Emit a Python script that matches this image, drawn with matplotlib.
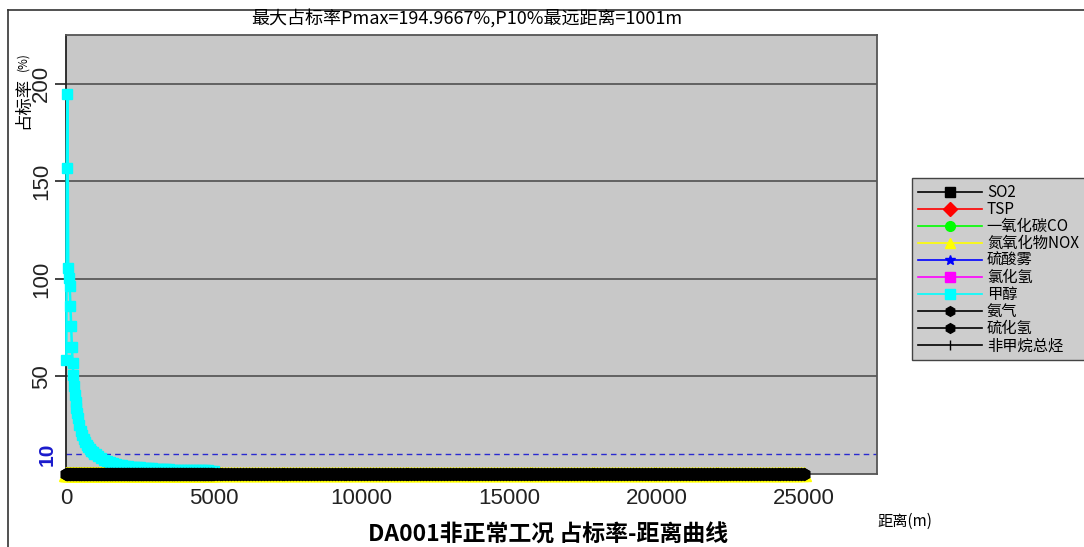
import matplotlib
matplotlib.use('Agg')
import matplotlib.pyplot as plt
from matplotlib.lines import Line2D

plt.rcParams['font.family'] = ['Liberation Sans', 'Noto Sans CJK SC']
CJK = ['Noto Sans CJK SC', 'DejaVu Sans']

# receptor distances (m): dense near field, 100 m steps beyond 5 km
dist = [10] + list(range(25, 5001, 25)) + list(range(5100, 25001, 100))

# all pollutants except methanol stay at ~0 %
so2 = [0.0] * len(dist)
tsp = [0.0] * len(dist)
co = [0.0] * len(dist)
nox = [0.0] * len(dist)
h2so4 = [0.0] * len(dist)
hcl = [0.0] * len(dist)
nh3 = [0.0] * len(dist)
h2s = [0.0] * len(dist)
nmhc = [0.0] * len(dist)

# methanol (甲醇) curve
meoh_dist = [10, 25, 46, 75, 100, 125, 150, 175, 200, 225, 250, 275, 300, 325,
             350, 375, 400, 450, 500, 550, 600, 650, 700, 750, 800, 850, 900,
             950, 1001, 1100, 1200, 1300, 1400, 1500, 1600, 1700, 1800, 1900,
             2000, 2100, 2200, 2300, 2400, 2500, 2600, 2700, 2800, 2900, 3000,
             3100, 3200, 3300, 3400, 3500, 3600, 3700, 3800, 3900, 4000, 4100,
             4200, 4300, 4400, 4500, 4600, 4700, 4800, 4900, 5000]
meoh = [58.4, 156.8, 194.97, 105.8, 100.3, 96.4, 85.9, 75.7, 65.2, 57.0, 50.5,
        45.0, 40.6, 37.0, 33.9, 31.2, 28.9, 25.1, 22.2, 19.9, 18.0, 16.4, 15.0,
        13.8, 12.8, 11.9, 11.1, 10.4, 10.0, 9.0, 8.1, 7.3, 6.6, 6.0, 5.5, 5.1,
        4.8, 4.5, 4.2, 4.0, 3.8, 3.65, 3.5, 3.35, 3.2, 3.1, 3.0, 2.9, 2.8, 2.7,
        2.6, 2.5, 2.45, 2.4, 2.3, 2.25, 2.2, 2.15, 2.1, 2.05, 2.0, 1.95, 1.9,
        1.9, 1.85, 1.8, 1.8, 1.75, 1.7]

xticks = [0, 5000, 10000, 15000, 20000, 25000]
yticks = [50, 100, 150, 200]
p10 = 10

fig = plt.figure(figsize=(10.84, 5.47), dpi=100)
ax = fig.add_axes([66 / 1084, 73 / 547, 811 / 1084, 439 / 547])
ax.set_facecolor('#c8c8c8')
ax.set_xlim(0, 27470)
ax.set_ylim(0, 225)

# horizontal grid and the 10 % line
for v in yticks:
    ax.axhline(v, color='#505050', lw=1.2, zorder=1)
ax.axhline(p10, color='#2a2ad0', lw=1.0, ls=(0, (4, 3)), zorder=1)

# name, values, distances, colour, marker, marker size
series = [
    ('SO2', so2, dist, 'black', 's', 5),
    ('TSP', tsp, dist, 'red', 'D', 4.5),
    ('一氧化碳CO', co, dist, '#00ff00', 'o', 5),
    ('氮氧化物NOX', nox, dist, 'yellow', '^', 9.5),
    ('硫酸雾', h2so4, dist, '#0000ff', '*', 5),
    ('氯化氢', hcl, dist, '#ff00ff', 's', 5),
    ('甲醇', meoh, meoh_dist, '#00ffff', 's', 7),
    ('氨气', nh3, dist, 'black', 'h', 8.5),
    ('硫化氢', h2s, dist, 'black', 'h', 8.5),
    ('非甲烷总烃', nmhc, dist, 'black', '|', 7),
]
handles = []
for name, vals, d, col, mk, size in series:
    ax.plot(d, vals, color=col, lw=1.8, marker=mk, markersize=size,
            markeredgecolor=col, clip_on=False, zorder=3)
    handles.append(Line2D([], [], color=col, lw=1.2, marker=mk, markersize=7,
                          markeredgecolor=col, label=name))

for s in ax.spines.values():
    s.set_color('#555555')
    s.set_linewidth(1.3)
ax.spines['left'].set_color('#222222')

ax.set_xticks(xticks)
ax.set_xticklabels([str(t) for t in xticks], fontsize=16, color='#222222')
ax.set_yticks(yticks)
ax.set_yticklabels([str(t) for t in yticks], fontsize=16, color='#222222',
                   rotation=90, va='center')
ax.tick_params(axis='y', length=8, width=1.2, color='#222222', pad=2)
ax.tick_params(axis='x', length=6, width=1.2, color='#333333', pad=4)
ax.text(-0.012, p10, '10', transform=ax.get_yaxis_transform(), rotation=90,
        ha='right', va='center', fontsize=15, fontweight='bold', color='#1a1acc')

# texts
fig.text(467 / 1084, 1 - 18 / 547, '最大占标率Pmax=194.9667%,P10%最远距离=1001m',
         ha='center', va='center', fontsize=13, family=CJK)
fig.text(548 / 1084, 1 - 535 / 547, 'DA001非正常工况 占标率-距离曲线',
         ha='center', va='center', fontsize=16.5, fontweight='bold', family=CJK)
fig.text(905 / 1084, 1 - 521 / 547, '距离(m)', ha='center', va='center',
         fontsize=11, family=CJK)
fig.text(23 / 1084, 1 - 103 / 547, '占标率', rotation=90, ha='center',
         va='center', fontsize=12.5, family=CJK)
fig.text(23 / 1084, 1 - 62 / 547, '(%)', rotation=90, ha='center',
         va='center', fontsize=8.5, family=CJK)

leg = fig.legend(handles=handles, loc='upper left',
                 bbox_to_anchor=(912 / 1084, 1 - 178 / 547),
                 prop={'family': CJK, 'size': 11}, handlelength=4.2,
                 labelspacing=0.0, borderpad=0.4, handletextpad=0.3,
                 borderaxespad=0, fancybox=False, framealpha=1, numpoints=1)
leg.get_frame().set_facecolor('#cdcdcd')
leg.get_frame().set_edgecolor('#444444')

# outer frame of the picture
fig.add_artist(Line2D([7.5 / 1084, 7.5 / 1084], [0, 1 - 10 / 547],
                      color='#333333', lw=1.2))
fig.add_artist(Line2D([7.5 / 1084, 1], [1 - 10 / 547, 1 - 10 / 547],
                      color='#333333', lw=1.2))

fig.savefig('out.png', dpi=100)
